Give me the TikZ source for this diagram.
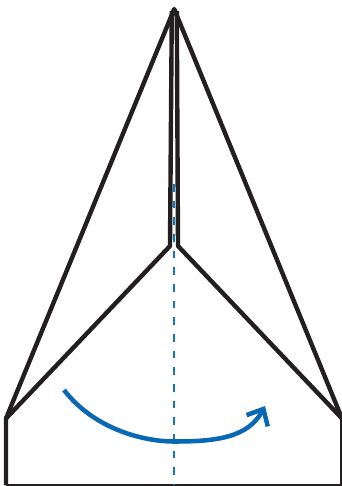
\documentclass[tikz,border=0pt]{standalone}
\usetikzlibrary{arrows.meta}
\definecolor{foldblack}{HTML}{231F20}
\definecolor{foldblue}{HTML}{0868B4}
\definecolor{creaseblue}{HTML}{1375BC}
\tikzset{
  edge/.style={line width=3.3pt, color=foldblack, line join=round},
  sheet/.style={line width=1.6pt, color=foldblack},
  crease/.style={line width=1.8pt, color=creaseblue, dash pattern=on 5.8pt off 6.7pt},
  turn/.style={line width=3.4pt, color=foldblue, ->, >={Straight Barb[length=10pt,width=18pt,line width=3.4pt]}}
}
\begin{document}
\begin{tikzpicture}[x=0.75pt,y=-0.75pt]
	\useasboundingbox (0,0) rectangle (342,486);
	\coordinate (T) at (174.2,9);
	\coordinate (TL) at (171.8,11);
	\coordinate (TR) at (176.8,11);
	\coordinate (L) at (6,418.5);
	\coordinate (R) at (342,418.5);
	\coordinate (BL) at (6,485);
	\coordinate (BR) at (341.5,485);
	\coordinate (RE) at (341.5,419);
	\coordinate (IL) at (170,246);
	\coordinate (IR) at (178,246);
	\coordinate (CT) at (174.2,184);
	\coordinate (CB) at (174.2,485);
	\coordinate (A) at (64,390);
	\coordinate (M) at (174,441.5);
	\coordinate (B) at (265,406);
	\draw[edge] (L) -- (IL) -- (TL);
	\draw[edge] (R) -- (IR) -- (TR);
	\draw[edge] (BL) -- (L) -- (T) -- (R);
	\draw[sheet] (BL) -- (BR) -- (RE);
	\draw[crease] (CT) -- (CB);
	\draw[turn] (A) .. controls (95,430) and (145,441.5) .. (M) .. controls (215,441.5) and (248,438) .. (B);
\end{tikzpicture}
\end{document}
